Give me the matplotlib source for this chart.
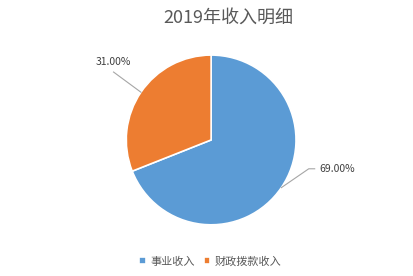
import numpy as np
import matplotlib.pyplot as plt

plt.rcParams['font.family'] = ['Noto Sans CJK SC', 'DejaVu Sans']

categories = ['事业收入', '财政拨款收入']
values = [69.0, 31.0]
colors = ['#5B9BD5', '#ED7D31']
title = '2019年收入明细'

fig = plt.figure(figsize=(4.14, 2.76), dpi=100)
ax = fig.add_axes([0.305, 0.185, 0.41, 0.616])
wedges, _ = ax.pie(values, colors=colors, startangle=90, counterclock=False,
                   wedgeprops=dict(edgecolor='white', linewidth=1.2))
ax.set_xlim(-1, 1)
ax.set_ylim(-1, 1)
ax.set_aspect('equal')

# 标签位置 (以半径为单位)
label_pos = [(1.28, -0.34), (-1.15, 0.92)]
elbow = [(1.15, -0.34), (-1.15, 0.80)]
for w, v, lp, el in zip(wedges, values, label_pos, elbow):
    mid = np.deg2rad((w.theta1 + w.theta2) / 2)
    x0, y0 = np.cos(mid), np.sin(mid)
    if lp[0] > 0:
        ax.plot([x0, el[0], el[0] + 0.07], [y0, el[1], el[1]], color='#A6A6A6', lw=0.8, clip_on=False)
        ax.text(lp[0], lp[1], f'{v:.2f}%', ha='left', va='center', fontsize=7.5, color='#404040')
    else:
        ax.plot([x0, el[0]], [y0, el[1]], color='#A6A6A6', lw=0.8, clip_on=False)
        ax.text(lp[0], lp[1], f'{v:.2f}%', ha='center', va='center', fontsize=7.5, color='#404040')

fig.text(0.551, 0.935, title, ha='center', va='center', fontsize=13, color='#595959')

fig.legend(wedges, categories, loc='center', bbox_to_anchor=(0.508, 0.053), ncol=2,
           frameon=False, fontsize=8, labelcolor='#595959', handlelength=0.6,
           handleheight=0.6, handletextpad=0.4, columnspacing=0.8)

fig.savefig('out.png', dpi=100)
